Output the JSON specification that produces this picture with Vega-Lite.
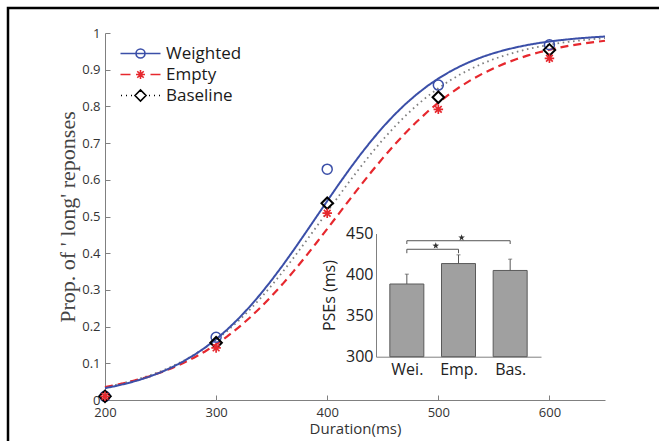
{
  "$schema": "https://vega.github.io/schema/vega-lite/v6.json",
  "width": 655,
  "height": 437,
  "autosize": {"type": "none"},
  "padding": {"left": 8, "top": 8, "right": -4, "bottom": -4},
  "background": "white",
  "config": {
    "font": "Open Sans",
    "view": {"stroke": "#000000", "strokeWidth": 2.5},
    "axis": {"grid": false, "labelFont": "Open Sans", "titleFont": "Open Sans", "domainColor": "#808080", "tickColor": "#808080", "labelColor": "#333333", "titleColor": "#333333", "titleFontWeight": "normal"}
  },
  "datasets": {
    "curves": [
      {"d":200,"Weighted":0.0322,"Empty":0.0352,"Baseline":0.0352},
      {"d":210,"Weighted":0.0383,"Empty":0.0411,"Baseline":0.0414},
      {"d":220,"Weighted":0.0455,"Empty":0.0478,"Baseline":0.0486},
      {"d":230,"Weighted":0.0538,"Empty":0.0556,"Baseline":0.0569},
      {"d":240,"Weighted":0.0637,"Empty":0.0645,"Baseline":0.0667},
      {"d":250,"Weighted":0.0752,"Empty":0.0748,"Baseline":0.0779},
      {"d":260,"Weighted":0.0887,"Empty":0.0865,"Baseline":0.0909},
      {"d":270,"Weighted":0.1042,"Empty":0.0999,"Baseline":0.1058},
      {"d":280,"Weighted":0.1220,"Empty":0.1151,"Baseline":0.1228},
      {"d":290,"Weighted":0.1425,"Empty":0.1323,"Baseline":0.1421},
      {"d":300,"Weighted":0.1657,"Empty":0.1516,"Baseline":0.1638},
      {"d":310,"Weighted":0.1919,"Empty":0.1732,"Baseline":0.1881},
      {"d":320,"Weighted":0.2212,"Empty":0.1970,"Baseline":0.2151},
      {"d":330,"Weighted":0.2534,"Empty":0.2234,"Baseline":0.2449},
      {"d":340,"Weighted":0.2887,"Empty":0.2521,"Baseline":0.2773},
      {"d":350,"Weighted":0.3267,"Empty":0.2832,"Baseline":0.3122},
      {"d":360,"Weighted":0.3671,"Empty":0.3165,"Baseline":0.3494},
      {"d":370,"Weighted":0.4095,"Empty":0.3518,"Baseline":0.3885},
      {"d":380,"Weighted":0.4533,"Empty":0.3888,"Baseline":0.4290},
      {"d":390,"Weighted":0.4978,"Empty":0.4272,"Baseline":0.4706},
      {"d":400,"Weighted":0.5423,"Empty":0.4664,"Baseline":0.5126},
      {"d":410,"Weighted":0.5862,"Empty":0.5059,"Baseline":0.5544},
      {"d":420,"Weighted":0.6287,"Empty":0.5455,"Baseline":0.5955},
      {"d":430,"Weighted":0.6694,"Empty":0.5845,"Baseline":0.6352},
      {"d":440,"Weighted":0.7076,"Empty":0.6225,"Baseline":0.6732},
      {"d":450,"Weighted":0.7432,"Empty":0.6590,"Baseline":0.7091},
      {"d":460,"Weighted":0.7758,"Empty":0.6937,"Baseline":0.7425},
      {"d":470,"Weighted":0.8053,"Empty":0.7264,"Baseline":0.7733},
      {"d":480,"Weighted":0.8317,"Empty":0.7567,"Baseline":0.8014},
      {"d":490,"Weighted":0.8553,"Empty":0.7847,"Baseline":0.8268},
      {"d":500,"Weighted":0.8760,"Empty":0.8104,"Baseline":0.8495},
      {"d":510,"Weighted":0.8941,"Empty":0.8336,"Baseline":0.8698},
      {"d":520,"Weighted":0.9099,"Empty":0.8544,"Baseline":0.8877},
      {"d":530,"Weighted":0.9235,"Empty":0.8731,"Baseline":0.9033},
      {"d":540,"Weighted":0.9352,"Empty":0.8897,"Baseline":0.9171},
      {"d":550,"Weighted":0.9452,"Empty":0.9043,"Baseline":0.9290},
      {"d":560,"Weighted":0.9537,"Empty":0.9172,"Baseline":0.9393},
      {"d":570,"Weighted":0.9610,"Empty":0.9285,"Baseline":0.9482},
      {"d":580,"Weighted":0.9672,"Empty":0.9383,"Baseline":0.9558},
      {"d":590,"Weighted":0.9724,"Empty":0.9469,"Baseline":0.9624},
      {"d":600,"Weighted":0.9768,"Empty":0.9544,"Baseline":0.9681},
      {"d":610,"Weighted":0.9805,"Empty":0.9608,"Baseline":0.9729},
      {"d":620,"Weighted":0.9837,"Empty":0.9664,"Baseline":0.9770},
      {"d":630,"Weighted":0.9863,"Empty":0.9712,"Baseline":0.9805},
      {"d":640,"Weighted":0.9885,"Empty":0.9753,"Baseline":0.9835},
      {"d":650,"Weighted":0.9904,"Empty":0.9788,"Baseline":0.9860}
    ],
    "pts": [
      {"d":200,"s":"Weighted","p":0.010},
      {"d":200,"s":"Baseline","p":0.010},
      {"d":200,"s":"Empty","p":0.010},
      {"d":300,"s":"Weighted","p":0.171},
      {"d":300,"s":"Baseline","p":0.156},
      {"d":300,"s":"Empty","p":0.142},
      {"d":400,"s":"Weighted","p":0.629},
      {"d":400,"s":"Baseline","p":0.536},
      {"d":400,"s":"Empty","p":0.509},
      {"d":500,"s":"Weighted","p":0.858},
      {"d":500,"s":"Baseline","p":0.825},
      {"d":500,"s":"Empty","p":0.792},
      {"d":600,"s":"Weighted","p":0.968},
      {"d":600,"s":"Baseline","p":0.954},
      {"d":600,"s":"Empty","p":0.931}
    ],
    "pse": [
      {"c":1,"name":"Wei.","v":388.5,"hi":400.5},
      {"c":2,"name":"Emp.","v":413.4,"hi":424.0},
      {"c":3,"name":"Bas.","v":405.0,"hi":418.8}
    ],
    "brk": [
      {"a":1,"b":2,"y":430.8,"yd":426.0},
      {"a":1,"b":3,"y":441.2,"yd":437.2}
    ],
    "stars": [
      {"x":1.56,"y":435.1},
      {"x":2.06,"y":444.9}
    ]
  },
  "layer": [
    {
      "resolve": {"scale": {"strokeWidth": "independent"}},
      "layer": [
        {
          "data": {"name": "curves"},
          "transform": [{"fold": ["Baseline", "Empty", "Weighted"], "as": ["s", "p"]}],
          "mark": {"type": "line"},
          "encoding": {
            "x": {"field": "d", "type": "quantitative",
              "scale": {"domain": [200, 650], "range": [97, 597], "nice": false, "zero": false},
              "axis": {"orient": "bottom", "offset": -45, "values": [200, 300, 400, 500, 600], "tickSize": -5, "labelPadding": 11, "labelFlush": false, "labelFontSize": 13, "title": "Duration(ms)", "titleFontSize": 15, "titlePadding": 2}},
            "y": {"field": "p", "type": "quantitative",
              "scale": {"domain": [0, 1], "range": [392, 25], "nice": false, "zero": false},
              "axis": {"orient": "left", "offset": -97, "values": [0, 0.1, 0.2, 0.3, 0.4, 0.5, 0.6, 0.7, 0.8, 0.9, 1], "format": "~g", "tickSize": -5, "labelPadding": 10, "labelFontSize": 13, "title": "Prop. of ' long' reponses", "titleFont": "Liberation Serif", "titleFontSize": 22, "titleColor": "#444444", "titlePadding": 2}},
            "stroke": {"field": "s", "type": "nominal", "scale": {"domain": ["Weighted", "Empty", "Baseline"], "range": ["#3b4fa8", "#e6282e", "#808080"]}, "legend": null},
            "strokeDash": {"field": "s", "type": "nominal", "scale": {"domain": ["Weighted", "Empty", "Baseline"], "range": [[1, 0], [8, 5], [1.6, 3.6]]}, "legend": null},
            "strokeWidth": {"field": "s", "type": "ordinal", "scale": {"type": "ordinal", "domain": ["Weighted", "Empty", "Baseline"], "range": [2, 2.2, 1.8]}, "legend": null}
          }
        },
        {
          "data": {"name": "pts"},
          "mark": {"type": "point", "filled": false, "size": 100, "opacity": 1},
          "encoding": {
            "x": {"field": "d", "type": "quantitative"},
            "y": {"field": "p", "type": "quantitative"},
            "color": {"field": "s", "type": "nominal", "scale": {"domain": ["Weighted", "Empty", "Baseline"], "range": ["#3b4fa8", "#e6282e", "#000000"]}, "legend": null},
            "shape": {"field": "s", "type": "nominal", "scale": {"domain": ["Weighted", "Empty", "Baseline"], "range": [
              "M-1,0A1,1 0 1,0 1,0A1,1 0 1,0 -1,0Z",
              "M-0.95,0H0.95M0,-0.95V0.95M-0.67,-0.67L0.67,0.67M-0.67,0.67L0.67,-0.67",
              "M-1.15,0L0,-1.15L1.15,0L0,1.15Z"]}, "legend": null},
            "strokeWidth": {"field": "s", "type": "ordinal", "scale": {"type": "ordinal", "domain": ["Weighted", "Empty", "Baseline"], "range": [1.5, 1.7, 2]}, "legend": null}
          }
        }
      ]
    },
    {
      "data": {"values": [{"s": "Weighted"}, {"s": "Empty"}, {"s": "Baseline"}]},
      "transform": [{"filter": "false"}],
      "mark": {"type": "point", "filled": false, "size": 100, "opacity": 1, "strokeWidth": 1.5},
      "encoding": {
        "color": {"field": "s", "type": "nominal", "title": null,
          "scale": {"domain": ["Weighted", "Empty", "Baseline"], "range": ["#3b4fa8", "#e6282e", "#000000"]},
          "legend": {"orient": "none", "legendX": 124, "legendY": 37, "title": null, "padding": 0, "symbolSize": 100, "symbolStrokeWidth": 1.6, "labelFont": "Open Sans", "labelFontSize": 17, "labelColor": "#1a1a1a", "labelOffset": 17, "rowPadding": 3}},
        "shape": {"field": "s", "type": "nominal", "title": null,
          "scale": {"domain": ["Weighted", "Empty", "Baseline"], "range": [
            "M-4,0H4M-0.9,0A0.9,0.9 0 1,0 0.9,0A0.9,0.9 0 1,0 -0.9,0Z",
            "M-4,0H-2M2,0H4M-0.9,0H0.9M0,-0.9V0.9M-0.64,-0.64L0.64,0.64M-0.64,0.64L0.64,-0.64",
            "M-3.9,0H-3.7M-2.9,0H-2.7M-1.9,0H-1.7M1.7,0H1.9M2.7,0H2.9M3.7,0H3.9M-1.1,0L0,-1.1L1.1,0L0,1.1Z"]},
          "legend": {"orient": "none", "legendX": 124, "legendY": 37, "title": null, "padding": 0, "symbolSize": 100, "symbolStrokeWidth": 1.6, "labelFont": "Open Sans", "labelFontSize": 17, "labelColor": "#1a1a1a", "labelOffset": 17, "rowPadding": 3}}
      }
    },
    {
      "layer": [
        {
          "data": {"name": "pse"},
          "mark": {"type": "bar", "size": 34, "fill": "#a0a0a0", "stroke": "#5a5a5a", "strokeWidth": 1},
          "encoding": {
            "x": {"field": "c", "type": "quantitative",
              "scale": {"domain": [0.5, 3.5], "range": [368, 533], "nice": false, "zero": false},
              "axis": {"orient": "bottom", "offset": -88.3, "values": [1, 2, 3], "labelExpr": "datum.value == 1 ? 'Wei.' : datum.value == 2 ? 'Emp.' : 'Bas.'", "ticks": false, "tickSize": 0, "labelPadding": 5, "labelFlush": false, "labelFontSize": 16, "labelColor": "#222222", "title": null}},
            "y": {"field": "v", "type": "quantitative",
              "scale": {"domain": [300, 450], "range": [348.7, 225.5], "nice": false, "zero": false},
              "axis": {"orient": "left", "offset": -368, "values": [300, 350, 400, 450], "ticks": false, "tickSize": 0, "labelPadding": 3, "labelFontSize": 16, "labelColor": "#222222", "title": "PSEs (ms)", "titleFontSize": 16, "titleColor": "#222222", "titlePadding": 8}},
            "y2": {"datum": 300}
          }
        },
        {
          "data": {"name": "pse"},
          "mark": {"type": "rule", "color": "#555555", "strokeWidth": 1},
          "encoding": {
            "x": {"field": "c", "type": "quantitative"},
            "y": {"field": "v", "type": "quantitative"},
            "y2": {"field": "hi"}
          }
        },
        {
          "data": {"name": "pse"},
          "mark": {"type": "tick", "orient": "horizontal", "size": 4, "thickness": 1, "color": "#555555"},
          "encoding": {
            "x": {"field": "c", "type": "quantitative"},
            "y": {"field": "hi", "type": "quantitative"}
          }
        },
        {
          "data": {"name": "brk"},
          "mark": {"type": "rule", "color": "#555555", "strokeWidth": 1},
          "encoding": {
            "x": {"field": "a", "type": "quantitative"},
            "x2": {"field": "b"},
            "y": {"field": "y", "type": "quantitative"}
          }
        },
        {
          "data": {"name": "brk"},
          "mark": {"type": "rule", "color": "#555555", "strokeWidth": 1},
          "encoding": {
            "x": {"field": "a", "type": "quantitative"},
            "y": {"field": "y", "type": "quantitative"},
            "y2": {"field": "yd"}
          }
        },
        {
          "data": {"name": "brk"},
          "mark": {"type": "rule", "color": "#555555", "strokeWidth": 1},
          "encoding": {
            "x": {"field": "b", "type": "quantitative"},
            "y": {"field": "y", "type": "quantitative"},
            "y2": {"field": "yd"}
          }
        },
        {
          "data": {"name": "stars"},
          "mark": {"type": "point", "filled": true, "opacity": 1, "size": 49, "color": "#333333", "shape": "M0,-1L0.235,-0.324L0.951,-0.309L0.38,0.124L0.588,0.809L0,0.4L-0.588,0.809L-0.38,0.124L-0.951,-0.309L-0.235,-0.324Z"},
          "encoding": {
            "x": {"field": "x", "type": "quantitative"},
            "y": {"field": "y", "type": "quantitative"}
          }
        }
      ]
    }
  ],
  "resolve": {"scale": {"x": "independent", "y": "independent", "color": "independent", "shape": "independent"}}
}
